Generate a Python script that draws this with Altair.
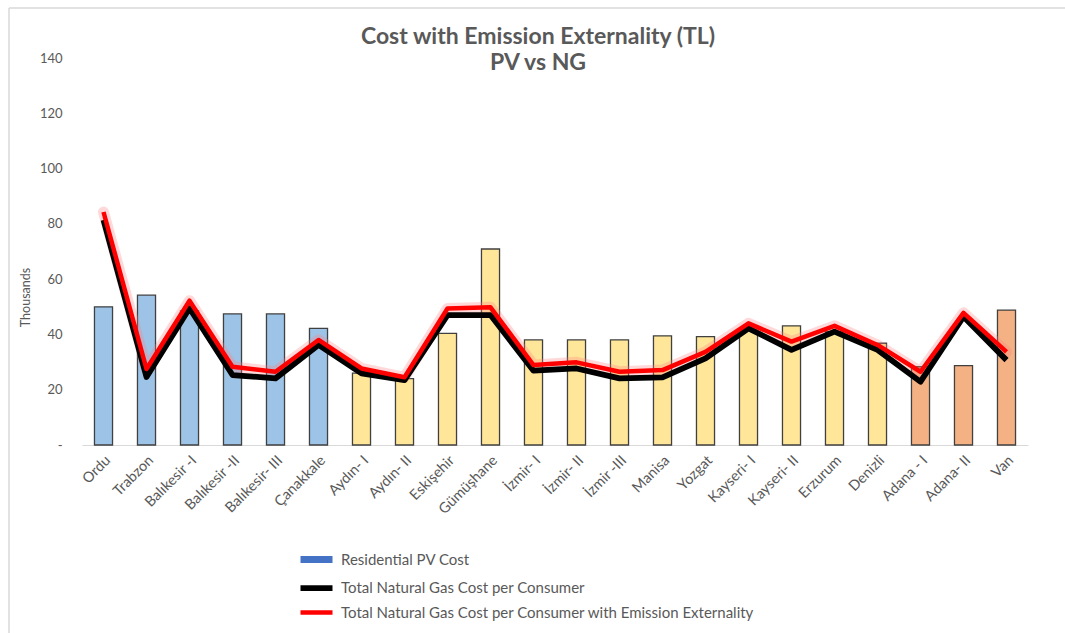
import altair as alt
import pandas as pd

# Regions (x axis, in display order)
regions = [
    "Ordu", "Trabzon", "Balıkesir -I", "Balıkesir -II", "Balıkesir- III",
    "Çanakkale", "Aydın- I", "Aydın- II", "Eskişehir", "Gümüşhane",
    "İzmir- I", "İzmir- II", "İzmir -III", "Manisa", "Yozgat",
    "Kayseri- I", "Kayseri- II", "Erzurum", "Denizli", "Adana - I",
    "Adana- II", "Van",
]
# Regional group of each city (used for bar shading)
zone = [1, 1, 1, 1, 1, 1, 2, 2, 2, 2, 2, 2, 2, 2, 2, 2, 2, 2, 2, 3, 3, 3]

# Costs in thousand TL
pv_cost = [50.0, 54.2, 48.5, 47.4, 47.4, 42.2, 26.0, 24.0, 40.4, 70.9, 38.0,
           38.0, 38.0, 39.5, 39.2, 41.5, 43.1, 41.0, 36.8, 28.3, 28.7, 48.8]
ng_cost = [81.4, 24.6, 49.5, 25.3, 24.1, 36.2, 25.9, 23.5, 47.0, 47.0, 26.9,
           27.7, 24.1, 24.5, 31.3, 42.2, 34.4, 41.0, 34.4, 22.9, 46.4, 30.7]
ng_ext_cost = [84.3, 27.5, 52.2, 28.3, 26.5, 38.0, 27.7, 24.5, 49.4, 49.8, 28.9,
               29.9, 26.5, 27.1, 33.7, 44.0, 37.4, 43.1, 36.2, 26.5, 47.8, 33.7]

S_PV = "Residential PV Cost"
S_NG = "Total Natural Gas Cost per Consumer"
S_EXT = "Total Natural Gas Cost per Consumer with Emission Externality"

bars_df = pd.DataFrame({"region": regions, "zone": zone, "pv": pv_cost})
lines_df = pd.DataFrame({
    "region": regions * 2,
    "idx": list(range(len(regions))) * 2,
    "series": [S_NG] * len(regions) + [S_EXT] * len(regions),
    "cost": ng_cost + ng_ext_cost,
})
ext_df = lines_df[lines_df["series"] == S_EXT]

FONT = "Lato"
GREY = "#595959"

x_enc = alt.X(
    "region:N", sort=regions,
    scale=alt.Scale(paddingInner=0.58, paddingOuter=0.29),
    axis=alt.Axis(title=None, labelAngle=-45, labelFontSize=14.5,
                  labelColor=GREY, labelFont=FONT, ticks=False,
                  domainColor="#D9D9D9", domainWidth=1, labelPadding=8),
)
y_scale = alt.Scale(domain=[0, 140], nice=False)
y_axis = alt.Axis(
    title="Thousands", values=list(range(0, 141, 20)),
    labelExpr="datum.value == 0 ? '-' : datum.label",
    labelFontSize=13, labelColor=GREY, labelFont=FONT, labelPadding=20,
    ticks=False, domain=False, grid=False,
    titleFont=FONT, titleFontSize=12.5, titleFontWeight="normal",
    titleColor=GREY, titleX=-57, titleY=239, titleAlign="center",
    titleBaseline="middle",
)

bars = alt.Chart(bars_df).mark_bar(stroke="#404040", strokeWidth=1.3).encode(
    x=x_enc,
    y=alt.Y("pv:Q", scale=y_scale, axis=y_axis),
    fill=alt.Fill("zone:N", legend=None,
                  scale=alt.Scale(domain=[1, 2, 3],
                                  range=["#9DC3E6", "#FFE699", "#F4B183"])),
)

glow = alt.Chart(ext_df).mark_line(
    color="#FF8080", opacity=0.3, strokeWidth=11, strokeJoin="round",
    strokeCap="round",
).encode(
    x=alt.X("region:N", sort=regions),
    y=alt.Y("cost:Q", scale=y_scale),
    order="idx:Q",
)

# Legend swatches: a flat stroke wider than the symbol's nominal box
legend_opts = dict(
    title=None, orient="none", legendX=223, legendY=490,
    symbolType="M-2,0L2,0", symbolSize=256, labelFont=FONT,
    labelFontSize=15, labelColor=GREY, labelOffset=13,
    rowPadding=2, padding=0, labelLimit=700,
)
series_domain = [S_PV, S_NG, S_EXT]
lines = alt.Chart(lines_df).mark_line(strokeJoin="round").encode(
    x=alt.X("region:N", sort=regions),
    y=alt.Y("cost:Q", scale=y_scale),
    order="idx:Q",
    color=alt.Color(
        "series:N",
        scale=alt.Scale(domain=series_domain,
                        range=["#4472C4", "#000000", "#FF0000"]),
        legend=alt.Legend(**legend_opts),
    ),
    strokeWidth=alt.StrokeWidth(
        "series:N",
        scale=alt.Scale(domain=series_domain, range=[7, 4.5, 4]),
        legend=alt.Legend(**legend_opts),
    ),
)

# Thin outer frame of the chart box
frame_top = alt.Chart(alt.Data(values=[{}])).mark_rule(
    color="#D9D9D9", strokeWidth=1.5
).encode(x=alt.value(-73), x2=alt.value(990), y=alt.value(-50))
frame_left = alt.Chart(alt.Data(values=[{}])).mark_rule(
    color="#D9D9D9", strokeWidth=1.5
).encode(x=alt.value(-73), y=alt.value(-50), y2=alt.value(600))

chart = alt.layer(frame_top, frame_left, bars, glow, lines).properties(
    width=946, height=387,
    background="white",
    autosize=alt.AutoSizeParams(type="none"),
    padding={"left": 82, "top": 58, "right": 37, "bottom": 188},
    title=alt.TitleParams(
        text=["Cost with Emission Externality (TL)", "PV vs NG"],
        font=FONT, fontSize=23, fontWeight="bold", color=GREY,
        anchor="middle", frame="group", lineHeight=26, offset=-12, dx=-17,
        dy=56,
    ),
).configure_view(stroke="transparent", strokeWidth=0)

chart.save("out.html", embed_options={"renderer": "svg", "actions": False})
